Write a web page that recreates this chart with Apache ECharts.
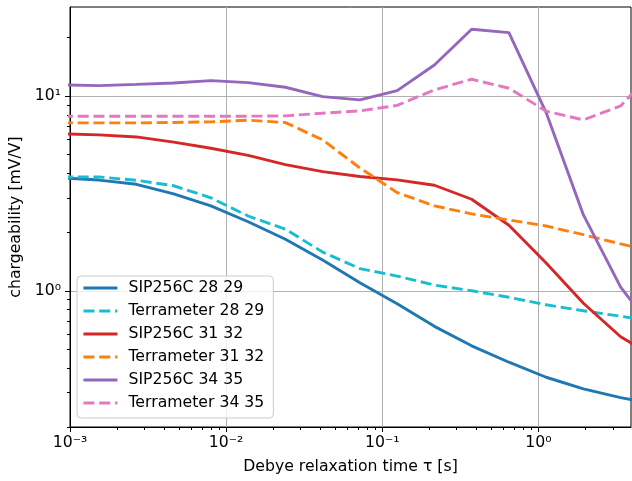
<!DOCTYPE html>
<html><head><meta charset="utf-8">
<script src="https://cdn.jsdelivr.net/npm/echarts@6/dist/echarts.min.js"></script>
<style>html,body{margin:0;padding:0;background:#fff}#c{width:632px;height:481px}</style>
</head><body><div id="c"></div>
<script>
// Debye relaxation times [s]
const tau = [0.000887, 0.001537, 0.002662, 0.004611, 0.007988, 0.01384, 0.02397, 0.04151, 0.07191, 0.1246, 0.2158, 0.3738, 0.6475, 1.1215, 1.943, 3.365, 5.83];
// chargeability [mV/V]
const sip2829   = [3.80, 3.70, 3.52, 3.14, 2.73, 2.26, 1.84, 1.44, 1.10, 0.858, 0.657, 0.522, 0.430, 0.360, 0.314, 0.283, 0.260];
const terra2829 = [3.84, 3.84, 3.69, 3.46, 3.00, 2.42, 2.07, 1.58, 1.30, 1.19, 1.07, 1.00, 0.926, 0.848, 0.790, 0.740, 0.694];
const sip3132   = [6.39, 6.31, 6.16, 5.79, 5.39, 4.95, 4.44, 4.09, 3.86, 3.71, 3.48, 2.95, 2.17, 1.39, 0.863, 0.581, 0.448];
const terra3132 = [7.27, 7.27, 7.27, 7.31, 7.36, 7.51, 7.30, 5.95, 4.27, 3.19, 2.73, 2.48, 2.31, 2.15, 1.94, 1.74, 1.57];
const sip3435   = [11.39, 11.29, 11.46, 11.66, 11.98, 11.70, 11.08, 9.92, 9.54, 10.65, 14.42, 21.98, 21.12, 8.22, 2.45, 1.044, 0.588];
const terra3435 = [7.87, 7.87, 7.87, 7.87, 7.87, 7.87, 7.90, 8.15, 8.38, 8.94, 10.74, 12.18, 10.95, 8.35, 7.53, 8.89, 14.17];

const seriesNames = ['SIP256C 28 29', 'Terrameter 28 29', 'SIP256C 31 32', 'Terrameter 31 32', 'SIP256C 34 35', 'Terrameter 34 35'];
const seriesValues = [sip2829, terra2829, sip3132, terra3132, sip3435, terra3435];
const seriesColors = ['#1f77b4', '#17becf', '#d62728', '#ff7f0e', '#9467bd', '#e377c2'];
const seriesDashed = [false, true, false, true, false, true];

const xMajor = [0.001, 0.01, 0.1, 1];
const xMinor = [0.002,0.003,0.004,0.005,0.006,0.007,0.008,0.009,
                0.02,0.03,0.04,0.05,0.06,0.07,0.08,0.09,
                0.2,0.3,0.4,0.5,0.6,0.7,0.8,0.9, 2, 3];
const yMajor = [1, 10];
const yMinor = [0.2,0.3,0.4,0.5,0.6,0.7,0.8,0.9, 2,3,4,5,6,7,8,9, 20];

const xLabel = 'Debye relaxation time τ [s]';
const yLabel = 'chargeability [mV/V]';

const FONT = 'DejaVu Sans';
const FS = 15.7;
const SUP = {'-':'⁻','0':'⁰','1':'¹','2':'²','3':'³','4':'⁴','5':'⁵','6':'⁶','7':'⁷','8':'⁸','9':'⁹'};
function powLabel(v) {
  const e = String(Math.round(Math.log10(v)));
  return '10' + e.split('').map(c => SUP[c]).join('');
}

const X_MIN = 0.001, X_MAX = 3.92, Y_MIN = 0.2, Y_MAX = 28.6;

function minorAxis(isX) {
  return {
    type: 'log', logBase: 10, min: isX ? X_MIN : Y_MIN, max: isX ? X_MAX : Y_MAX,
    gridIndex: 0, position: isX ? 'bottom' : 'left',
    axisLine: {show: false}, axisLabel: {show: false}, splitLine: {show: false},
    axisTick: {show: true, length: 3, customValues: isX ? xMinor : yMinor, lineStyle: {color: '#000', width: 1}}
  };
}

const chart = echarts.init(document.getElementById('c'), null, {renderer: 'canvas'});
chart.setOption({
  animation: false,
  backgroundColor: '#fff',
  grid: {left: 70, right: 1, top: 7, bottom: 54, show: true, borderColor: '#000', borderWidth: 1,
         backgroundColor: 'transparent', containLabel: false, outerBoundsMode: 'none'},
  xAxis: [{
    type: 'log', logBase: 10, min: X_MIN, max: X_MAX, gridIndex: 0, position: 'bottom',
    axisLine: {show: true, onZero: false, lineStyle: {color: '#000', width: 1}},
    axisTick: {show: true, length: 5, customValues: xMajor, lineStyle: {color: '#000', width: 1}},
    axisLabel: {customValues: xMajor, formatter: powLabel, color: '#000', fontSize: FS, fontFamily: FONT, margin: 8},
    splitLine: {show: true, lineStyle: {color: '#b0b0b0', width: 1}},
    name: xLabel, nameLocation: 'middle', nameGap: 32,
    nameTextStyle: {color: '#000', fontSize: FS, fontFamily: FONT}
  }, minorAxis(true)],
  yAxis: [{
    type: 'log', logBase: 10, min: Y_MIN, max: Y_MAX, gridIndex: 0, position: 'left',
    axisLine: {show: true, onZero: false, lineStyle: {color: '#000', width: 1}},
    axisTick: {show: true, length: 5, customValues: yMajor, lineStyle: {color: '#000', width: 1}},
    axisLabel: {customValues: yMajor, formatter: powLabel, color: '#000', fontSize: FS, fontFamily: FONT, margin: 9},
    splitLine: {show: true, lineStyle: {color: '#b0b0b0', width: 1}},
    name: yLabel, nameLocation: 'middle', nameGap: 44, nameRotate: 90,
    nameTextStyle: {color: '#000', fontSize: FS, fontFamily: FONT}
  }, minorAxis(false)],
  legend: {
    orient: 'vertical', left: 77, top: 276,
    padding: [4, 9, 7, 5], itemGap: 7, itemWidth: 34, itemHeight: 14,
    backgroundColor: 'rgba(255,255,255,0.8)', borderColor: '#cccccc', borderWidth: 1, borderRadius: 4,
    textStyle: {fontSize: FS, fontFamily: FONT, color: '#000', padding: [0, 0, 0, 6], lineHeight: 14},
    lineStyle: {width: 2.9},
    itemStyle: {color: 'transparent', borderColor: 'transparent', borderWidth: 0, opacity: 0},
    data: seriesNames
  },
  series: seriesNames.map((name, i) => ({
    name: name, type: 'line', xAxisIndex: 0, yAxisIndex: 0,
    data: tau.map((t, k) => [t, seriesValues[i][k]]),
    symbol: 'none', clip: true, z: 2 + i,
    color: seriesColors[i],
    lineStyle: {color: seriesColors[i], width: 2.9, type: seriesDashed[i] ? [11, 4.8] : 'solid'}
  }))
});
</script>
</body></html>
